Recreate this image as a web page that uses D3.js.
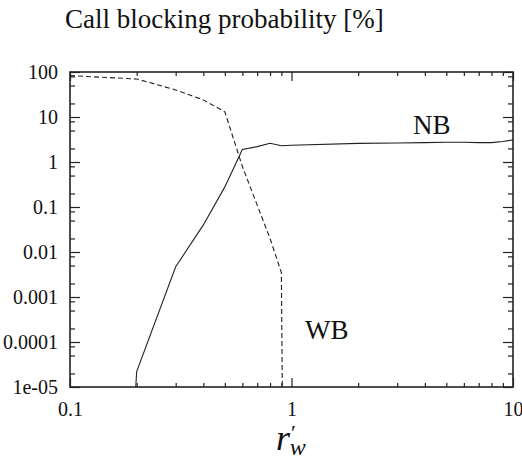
<!DOCTYPE html>
<html>
<head>
<script src="https://cdn.jsdelivr.net/npm/d3@7"></script>
<style>
  @font-face {
    font-family: "ChartSerif";
    src: local("Liberation Serif"), local("LiberationSerif"), local("LiberationSerif-Regular"), local("Times New Roman");
    font-style: normal;
  }
  @font-face {
    font-family: "ChartSerif";
    src: local("Liberation Serif Italic"), local("LiberationSerif-Italic"), local("Times New Roman Italic");
    font-style: italic;
  }
  svg text { font-family: "Liberation Serif", "Times New Roman", "ChartSerif" !important; }
</style>
</head>
<body>
<script>
// r'_w values sampled by the simulation
const rValues = [0.1, 0.2, 0.3, 0.4, 0.5, 0.6, 0.7, 0.8, 0.9, 1, 2, 3, 4, 5, 6, 7, 8, 9, 10];
// narrowband call blocking [%]; the first sample lies far below the plotted range
const nbBlocking = [1e-30, 2.2e-5, 0.0047, 0.04, 0.28, 1.9, 2.2, 2.6, 2.3, 2.35, 2.6, 2.65, 2.7, 2.75, 2.75, 2.7, 2.7, 2.85, 3.1];
// wideband call blocking [%]; drops out of range after r'_w = 0.9
const wbR = [0.1, 0.2, 0.3, 0.4, 0.5, 0.6, 0.7, 0.8, 0.9, 1];
const wbBlocking = [83, 70, 40, 24, 13, 0.8, 0.11, 0.02, 0.0035, 1e-30];

const xTicks = [0.1, 1, 10];
const xTickLabels = ["0.1", "1", "10"];
const yTicks = [1e-5, 1e-4, 1e-3, 1e-2, 0.1, 1, 10, 100];
const yTickLabels = ["1e-05", "0.0001", "0.001", "0.01", "0.1", "1", "10", "100"];
const xMinorMult = [2, 3, 4, 5, 6, 7, 8, 9];
const yMinorMult = [2, 5, 8];

const W = 522, H = 461;
const mLeft = 70, mRight = 513, mTop = 72, mBottom = 387;
const SERIF = '"Liberation Serif"';

d3.select("body").style("margin", "0px").style("background", "#fff");
const svg = d3.select("body").append("svg")
  .attr("width", W).attr("height", H).style("display", "block")
  .attr("font-family", "Liberation Serif");

const x = d3.scaleLog().domain([0.1, 10]).range([mLeft, mRight]);
const y = d3.scaleLog().domain([1e-5, 100]).range([mBottom, mTop]);

const xMinor = [];
[0.1, 1].forEach(d => xMinorMult.forEach(m => xMinor.push(d * m)));
const yMinor = [];
[1e-5, 1e-4, 1e-3, 1e-2, 0.1, 1, 10].forEach(d => yMinorMult.forEach(m => yMinor.push(d * m)));

const stroke = "#222";

function styleAxis(g) {
  g.attr("font-family", "Liberation Serif");
  g.select(".domain").remove();
  g.selectAll(".tick line").attr("stroke", stroke).attr("stroke-width", 1.2);
  g.selectAll("text").style("font-family", SERIF).attr("font-size", 20).attr("fill", "#111");
}

// minor ticks on all four sides
svg.append("g").attr("transform", `translate(0,${mBottom})`)
  .call(d3.axisBottom(x).tickValues(xMinor).tickSize(-4).tickFormat(""))
  .call(styleAxis);
svg.append("g").attr("transform", `translate(0,${mTop})`)
  .call(d3.axisTop(x).tickValues(xMinor).tickSize(-4).tickFormat(""))
  .call(styleAxis);
svg.append("g").attr("transform", `translate(${mLeft},0)`)
  .call(d3.axisLeft(y).tickValues(yMinor).tickSize(-5).tickFormat(""))
  .call(styleAxis);
svg.append("g").attr("transform", `translate(${mRight},0)`)
  .call(d3.axisRight(y).tickValues(yMinor).tickSize(-5).tickFormat(""))
  .call(styleAxis);

// major ticks with labels
const sameDecade = (a, b) => Math.abs(Math.log10(a) - Math.log10(b)) < 1e-6;
const fmtX = d => xTickLabels[xTicks.findIndex(v => sameDecade(v, d))];
const fmtY = d => yTickLabels[yTicks.findIndex(v => sameDecade(v, d))];

svg.append("g").attr("transform", `translate(0,${mBottom})`)
  .call(d3.axisBottom(x).tickValues(xTicks).tickSizeInner(-9).tickSizeOuter(0).tickPadding(15).tickFormat(fmtX))
  .call(styleAxis);

svg.append("g").attr("transform", `translate(0,${mTop})`)
  .call(d3.axisTop(x).tickValues(xTicks).tickSize(-9).tickFormat(""))
  .call(styleAxis);

svg.append("g").attr("transform", `translate(${mLeft},0)`)
  .call(d3.axisLeft(y).tickValues(yTicks).tickSizeInner(-10).tickSizeOuter(0).tickPadding(12).tickFormat(fmtY))
  .call(styleAxis);

svg.append("g").attr("transform", `translate(${mRight},0)`)
  .call(d3.axisRight(y).tickValues(yTicks).tickSize(-10).tickFormat(""))
  .call(styleAxis);

// plot frame
svg.append("rect")
  .attr("x", mLeft).attr("y", mTop)
  .attr("width", mRight - mLeft).attr("height", mBottom - mTop)
  .attr("fill", "none").attr("stroke", stroke).attr("stroke-width", 1.6);

// curves, clipped to the frame
svg.append("clipPath").attr("id", "plot-clip")
  .append("rect").attr("x", mLeft).attr("y", mTop)
  .attr("width", mRight - mLeft).attr("height", mBottom - mTop);

const line = d3.line().x(d => x(d[0])).y(d => y(d[1]));
const curves = svg.append("g").attr("clip-path", "url(#plot-clip)");

curves.append("path")
  .datum(rValues.map((r, i) => [r, nbBlocking[i]]))
  .attr("d", line)
  .attr("fill", "none").attr("stroke", "#222").attr("stroke-width", 1.1);

curves.append("path")
  .datum(wbR.map((r, i) => [r, wbBlocking[i]]))
  .attr("d", line)
  .attr("fill", "none").attr("stroke", "#222").attr("stroke-width", 1.1)
  .attr("stroke-dasharray", "5,3");

// curve labels
svg.append("text").attr("x", 413).attr("y", 134).attr("font-size", 27).attr("fill", "#111")
  .style("font-family", SERIF).text("NB");
svg.append("text").attr("x", 305).attr("y", 339).attr("font-size", 27).attr("fill", "#111")
  .style("font-family", SERIF).text("WB");

// title
svg.append("text").attr("x", 65).attr("y", 28).attr("font-size", 27).attr("fill", "#111")
  .style("font-family", SERIF).text("Call blocking probability [%]");

// x-axis label r'_w
const xl = svg.append("text").attr("x", 276).attr("y", 450).attr("fill", "#111")
  .style("font-family", SERIF).attr("font-style", "italic").attr("font-size", 36);
xl.append("tspan").text("r");
xl.append("tspan").attr("font-style", "normal").attr("font-size", 22).attr("dx", 1).attr("dy", -10).text("′");
xl.append("tspan").attr("font-size", 24).attr("dx", -6).attr("dy", 15).text("w");
</script>
</body>
</html>
